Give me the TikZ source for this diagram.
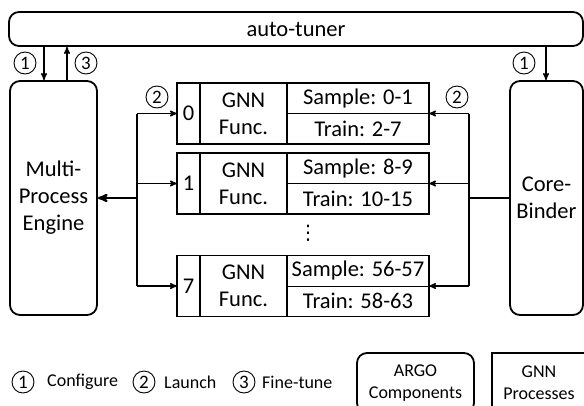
\documentclass[tikz,border=0pt]{standalone}
\usepackage{fontspec}
\setmainfont{Carlito}
\newfontfamily\symfont{DejaVu Sans}
\usetikzlibrary{shapes,arrows,positioning,calc}
\tikzset{%
compnode/.style={draw, line width=1.8pt, rounded corners=10pt, align=center, inner sep=0pt},
cell/.style={draw, line width=1.8pt, minimum height=61pt, inner sep=0pt, outer sep=0pt, align=center},
divider/.style={draw, line width=0.7pt},
num/.style={circle, draw, line width=0.9pt, inner sep=0pt, minimum size=22pt, font=\fontsize{19}{20}\selectfont},
legend/.style={font=\fontsize{18}{22}\selectfont, inner sep=0pt},
pt/.style={draw, line width=1.4pt, ->, >=stealth', shorten >=0pt},
bus/.style={draw, line width=1.4pt}
}

\begin{document}
\begin{tikzpicture}[x=1pt,y=-1pt,font=\fontsize{22.5}{27}\selectfont]
	\clip (0,0) rectangle (584,405);
	% ARGO components
	\node[compnode, minimum width=574pt, minimum height=34pt] (tuner) at (296,29) {auto-tuner};
	\node[compnode, minimum width=87pt, minimum height=234pt] (engine) at (53.5,198) {Multi-\\Process\\Engine};
	\node[compnode, minimum width=73pt, minimum height=234pt] (binder) at (546.5,198) {Core-\\Binder};
	
	% GNN processes
	\node[cell, minimum width=23pt] (idx0) at (188.5,113.5) {0};
	\node[cell, minimum width=87pt] (func0) [right=0pt of idx0] {GNN\\Func.};
	\node[cell, minimum width=142pt] (res0) [right=0pt of func0] {};
	\node (smp0) at ($(res0.center)!0.5!(res0.north)$) {Sample: 0-1};
	\node (trn0) at ($(res0.center)!0.5!(res0.south)$) {Train: 2-7};
	\draw[divider] (res0.west) -- (res0.east);
	
	\node[cell, minimum width=23pt] (idx1) at (188.5,183.5) {1};
	\node[cell, minimum width=87pt] (func1) [right=0pt of idx1] {GNN\\Func.};
	\node[cell, minimum width=142pt] (res1) [right=0pt of func1] {};
	\node (smp1) at ($(res1.center)!0.5!(res1.north)$) {Sample: 8-9};
	\node (trn1) at ($(res1.center)!0.5!(res1.south)$) {Train: 10-15};
	\draw[divider] (res1.west) -- (res1.east);
	
	\node[cell, minimum width=23pt] (idx7) at (188.5,286) {7};
	\node[cell, minimum width=87pt] (func7) [right=0pt of idx7] {GNN\\Func.};
	\node[cell, minimum width=142pt] (res7) [right=0pt of func7] {};
	\node (smp7) at ($(res7.center)!0.5!(res7.north)$) {Sample: 56-57};
	\node (trn7) at ($(res7.center)!0.5!(res7.south)$) {Train: 58-63};
	\draw[divider] (res7.west) -- (res7.east);
	
	\node[font=\symfont\fontsize{20}{20}\selectfont] (dots) at (308,233) {⋮};
	
	% launch paths
	\coordinate (lj) at (137,198);
	\coordinate (rj) at (469,198);
	\draw[pt, line width=2.2pt] (lj) -- (engine.east);
	\draw[bus] (lj |- idx0.west) -- (lj |- idx7.west);
	\draw[pt] (lj |- idx0.west) -- (idx0.west);
	\draw[pt] (lj |- idx1.west) -- (idx1.west);
	\draw[pt] (lj |- idx7.west) -- (idx7.west);
	\draw[bus] (binder.west) -- (rj);
	\draw[bus] (rj |- res0.east) -- (rj |- res7.east);
	\draw[pt] (rj |- res0.east) -- (res0.east);
	\draw[pt] (rj |- res1.east) -- (res1.east);
	\draw[pt] (rj |- res7.east) -- (res7.east);
	
	% tuner paths
	\draw[pt] (44,0 |- tuner.south) -- (44,0 |- engine.north);
	\draw[pt] (67,0 |- engine.north) -- (67,0 |- tuner.south);
	\draw[pt] (546,0 |- tuner.south) -- (546,0 |- binder.north);
	
	\node[num] (cfgl) at (25,63) {1};
	\node[num] (tunel) at (86,63) {3};
	\node[num] (cfgr) at (524,63) {1};
	\node[num] (lnchl) at (157,97) {2};
	\node[num] (lnchr) at (457,97) {2};
	
	% legend
	\node[num] (key1) at (23,382) {1};
	\node[legend, anchor=west] (conf) at (47,382) {Configure};
	\node[num] (key2) at (144,382) {2};
	\node[legend, anchor=west] (launch) at (164,382) {Launch};
	\node[num] (key3) at (244,382) {3};
	\node[legend, anchor=west] (fine) at (262,382) {Fine-tune};
	\node[compnode, legend, minimum width=117pt, minimum height=60pt] (argo) at (415.5,383) {ARGO\\Components};
	\node[draw, line width=1.8pt, legend, align=center, minimum width=94pt, minimum height=60pt] (procs) at (539,383) {GNN\\Processes};
\end{tikzpicture}
\end{document}
